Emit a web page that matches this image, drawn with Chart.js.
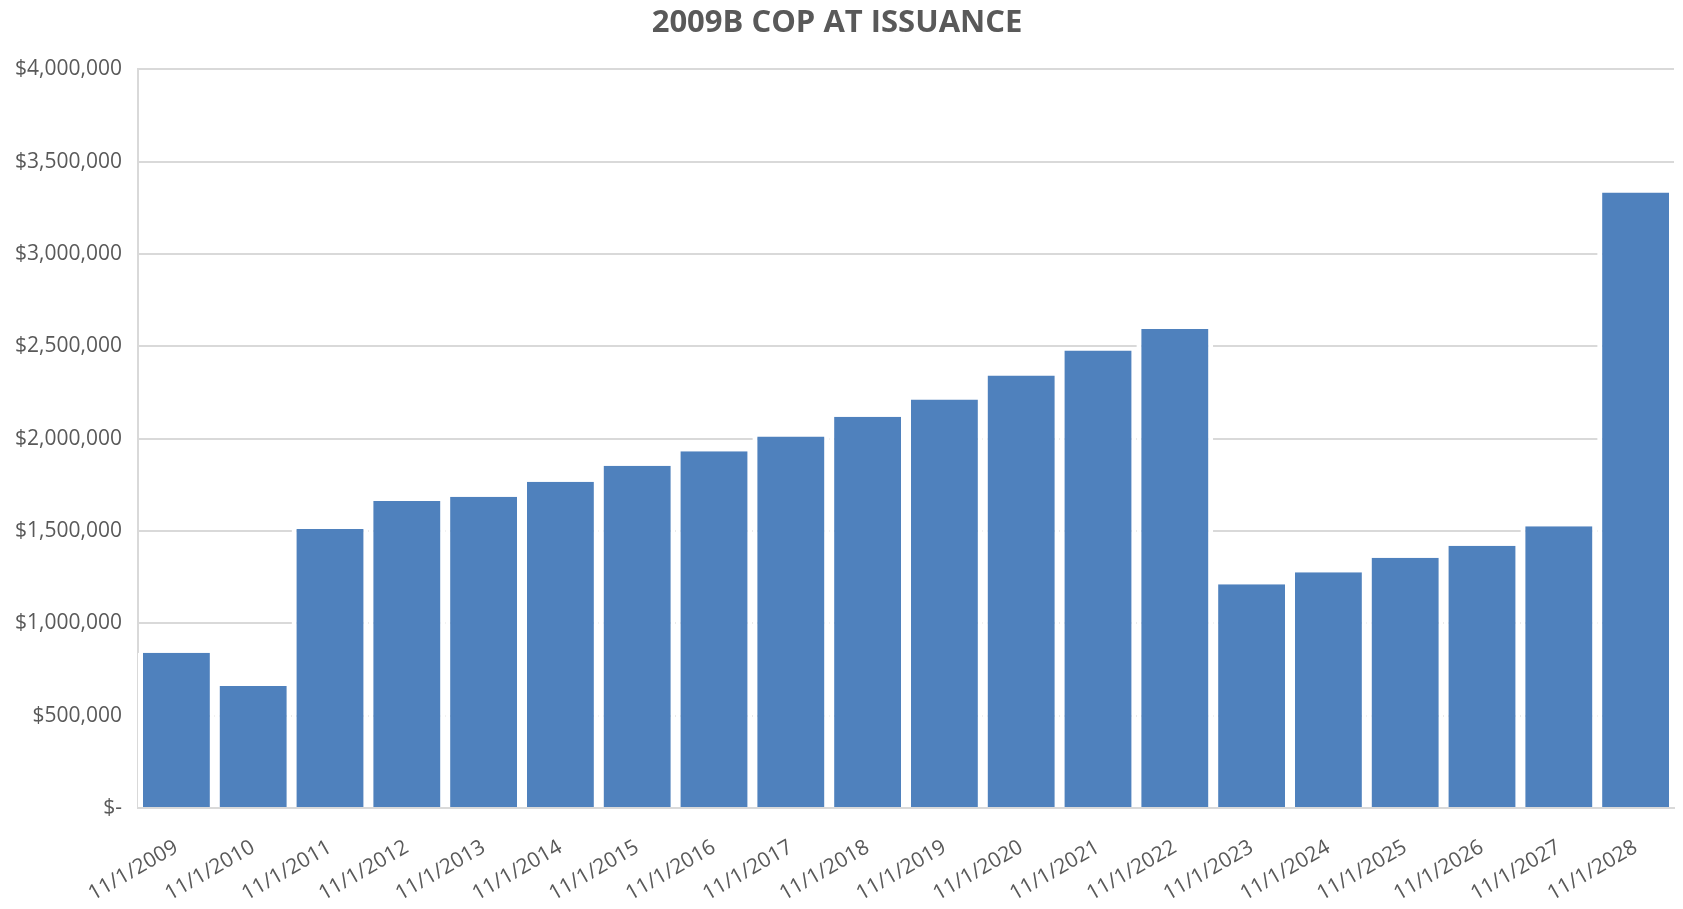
<!DOCTYPE html>
<html>
<head>
<meta charset="utf-8">
<script src="https://cdn.jsdelivr.net/npm/chart.js@4/dist/chart.umd.min.js"></script>
<style>
  html, body { margin: 0; padding: 0; background: #ffffff; }
  #wrap { width: 1683px; height: 909px; position: relative; }
</style>
</head>
<body>
<div id="wrap"><canvas id="c" width="1683" height="909"></canvas></div>
<script>
const chartTitle = "2009B COP AT ISSUANCE";
const categories = ["11/1/2009","11/1/2010","11/1/2011","11/1/2012","11/1/2013","11/1/2014","11/1/2015","11/1/2016","11/1/2017","11/1/2018","11/1/2019","11/1/2020","11/1/2021","11/1/2022","11/1/2023","11/1/2024","11/1/2025","11/1/2026","11/1/2027","11/1/2028"];
const values = [840000, 660000, 1510000, 1662000, 1685000, 1766000, 1853000, 1931000, 2012000, 2118000, 2212000, 2342000, 2477000, 2593000, 1211000, 1276000, 1355000, 1420000, 1526000, 3333000];
const yMin = 0;
const yMax = 4000000;
const yStep = 500000;

const textColor = "#595959";
const gridColor = "#d9d9d9";

new Chart(document.getElementById("c"), {
  type: "bar",
  data: {
    labels: categories,
    datasets: [{
      data: values,
      backgroundColor: "#4f81bd",
      borderColor: "#ffffff",
      borderWidth: { top: 0, left: 5, right: 5, bottom: 0 },
      borderSkipped: false,
      inflateAmount: 0,
      barPercentage: 1.0,
      categoryPercentage: 1.0
    }]
  },
  options: {
    responsive: false,
    animation: false,
    devicePixelRatio: 1,
    layout: { padding: { left: 0, right: 9, top: 0, bottom: 0 } },
    plugins: {
      legend: { display: false },
      tooltip: { enabled: false },
      title: {
        display: true,
        text: chartTitle,
        color: textColor,
        font: { family: "Open Sans", size: 31, weight: "bold" },
        padding: { top: 5, bottom: 27 }
      }
    },
    scales: {
      x: {
        grid: { display: false, drawTicks: false },
        border: { display: true, color: gridColor, width: 2 },
        ticks: {
          color: textColor,
          font: { family: "Open Sans", size: 21 },
          minRotation: 30,
          maxRotation: 30,
          padding: 27,
          autoSkip: false
        },
        afterFit: (s) => { s.height = 101; }
      },
      y: {
        min: yMin,
        max: yMax,
        grid: { color: gridColor, lineWidth: 2, drawTicks: false },
        border: { display: true, color: gridColor, width: 2 },
        ticks: {
          stepSize: yStep,
          color: textColor,
          font: { family: "Open Sans", size: 21 },
          padding: 16,
          callback: (v) => v === 0 ? "$-" : "$" + Number(v).toLocaleString("en-US")
        },
        afterFit: (s) => { s.width = 138; }
      }
    }
  }
});
</script>
</body>
</html>
